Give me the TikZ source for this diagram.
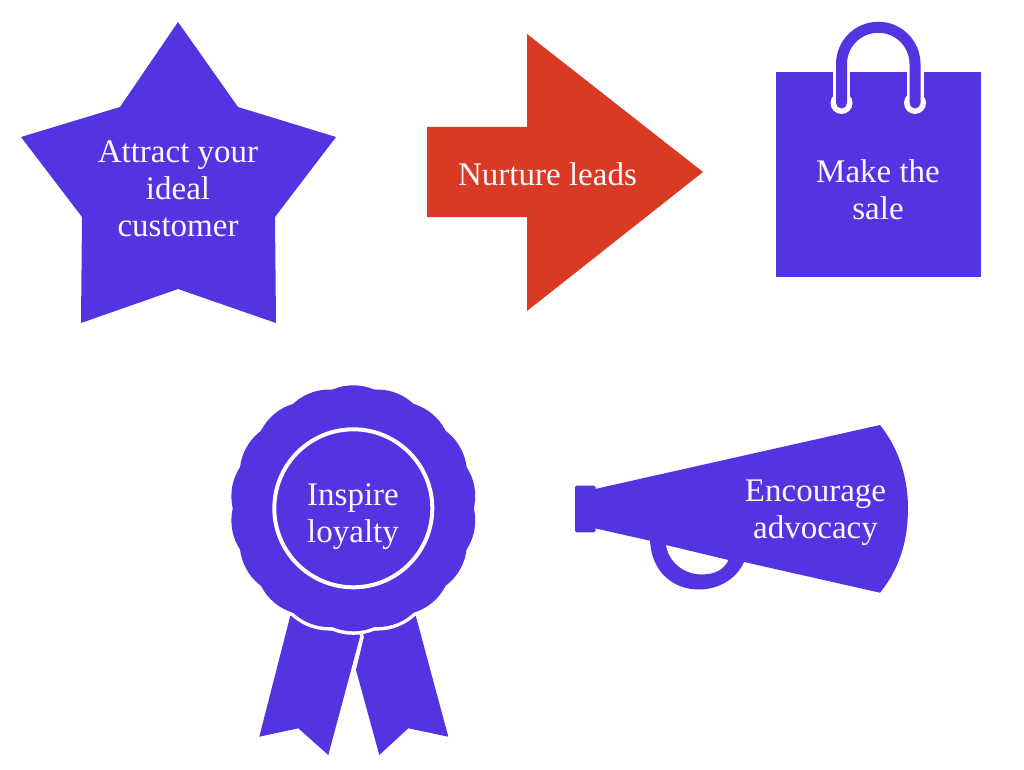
\documentclass[tikz,border=0pt]{standalone}
\usepackage{fontspec}
\setmainfont{Liberation Serif}
\definecolor{brandpurple}{HTML}{5433E1}
\definecolor{brandred}{HTML}{D93A24}
\definecolor{labelwhite}{HTML}{FBF8FD}
\tikzset{
  purpleshape/.style={fill=brandpurple,draw=none},
  redshape/.style={fill=brandred,draw=none},
  caption/.style={text=labelwhite,align=center,inner sep=0pt,font=\fontsize{33}{37}\selectfont},
}
\begin{document}
\begin{tikzpicture}[x=1pt,y=-1pt]
\useasboundingbox (0,0) rectangle (1024,770);
\fill[white] (0,0) rectangle (1024,770);
% star
\fill[purpleshape] (178,22) -- (238,107) -- (336,137) -- (275,217) -- (276,323) -- (178,289) -- (81,323) -- (82,217) -- (21,137) -- (120,107) -- cycle;
\node[caption] (star) at (178,188.5) {Attract your\\ideal\\customer};
% arrow
\fill[redshape] (427,127) -- (527,127) -- (527,34) -- (703,172) -- (527,311) -- (527,217) -- (427,217) -- cycle;
\node[caption] (arrow) at (547.5,174) {Nurture leads};
% bag
\fill[purpleshape] (776,72) rectangle (981,277);
\draw[white,line width=17pt] (841.5,72) -- (841.5,103) (915,72) -- (915,103);
\fill[white] (841.5,103) circle[radius=11] (915,103) circle[radius=11];
\draw[brandpurple,line width=11pt,line cap=round] (841.5,103) -- (841.5,64) arc[start angle=180,end angle=360,radius=36.75] -- (915,103);
\node[caption] (bag) at (878,190) {Make the\\sale};
% ribbons
\fill[purpleshape] (291,613) -- (259.3,736.7) -- (298.3,728.3) -- (328.3,755) -- (360,636.7) -- (353,600) -- cycle;
\fill[purpleshape] (415,613) -- (448.3,736.7) -- (408.3,728.3) -- (379.3,755) -- (356,670) -- (364,636.7) -- (353,600) -- cycle;
% rosette
\foreach \a in {10,30,...,350} {
  \draw[white,line width=7pt] (353.3,508.3) ++(\a:70) circle[radius=53];
}
\fill[purpleshape] (353.3,508.3) circle[radius=100];
\foreach \a in {10,30,...,350} {
  \fill[purpleshape] (353.3,508.3) ++(\a:70) circle[radius=53];
}
\draw[white,line width=4pt] (353.3,508.3) circle[radius=79];
\node[caption] (rosette) at (353,517) {Inspire\\loyalty};
% megaphone
\fill[purpleshape,even odd rule] (650,530) -- (650,538) .. controls (650,570) and (672,590) .. (700,589.5) .. controls (720,589) and (737,578) .. (744,562) -- (744,545) -- cycle
  (666,545) .. controls (668,560) and (682,575) .. (703,574.5) .. controls (715,574) and (724,570) .. (728.5,560) -- cycle;
\fill[purpleshape,rounded corners=1.5pt] (575,485.7) rectangle (595.5,532.3);
\fill[purpleshape] (595,489) -- (880,425) .. controls (900,450) and (908,480) .. (908,508.3) .. controls (908,540) and (900,568) .. (880,592.7) -- (595,528.3) -- cycle;
\node[caption] (horn) at (815.5,513) {Encourage\\advocacy};
\end{tikzpicture}
\end{document}
